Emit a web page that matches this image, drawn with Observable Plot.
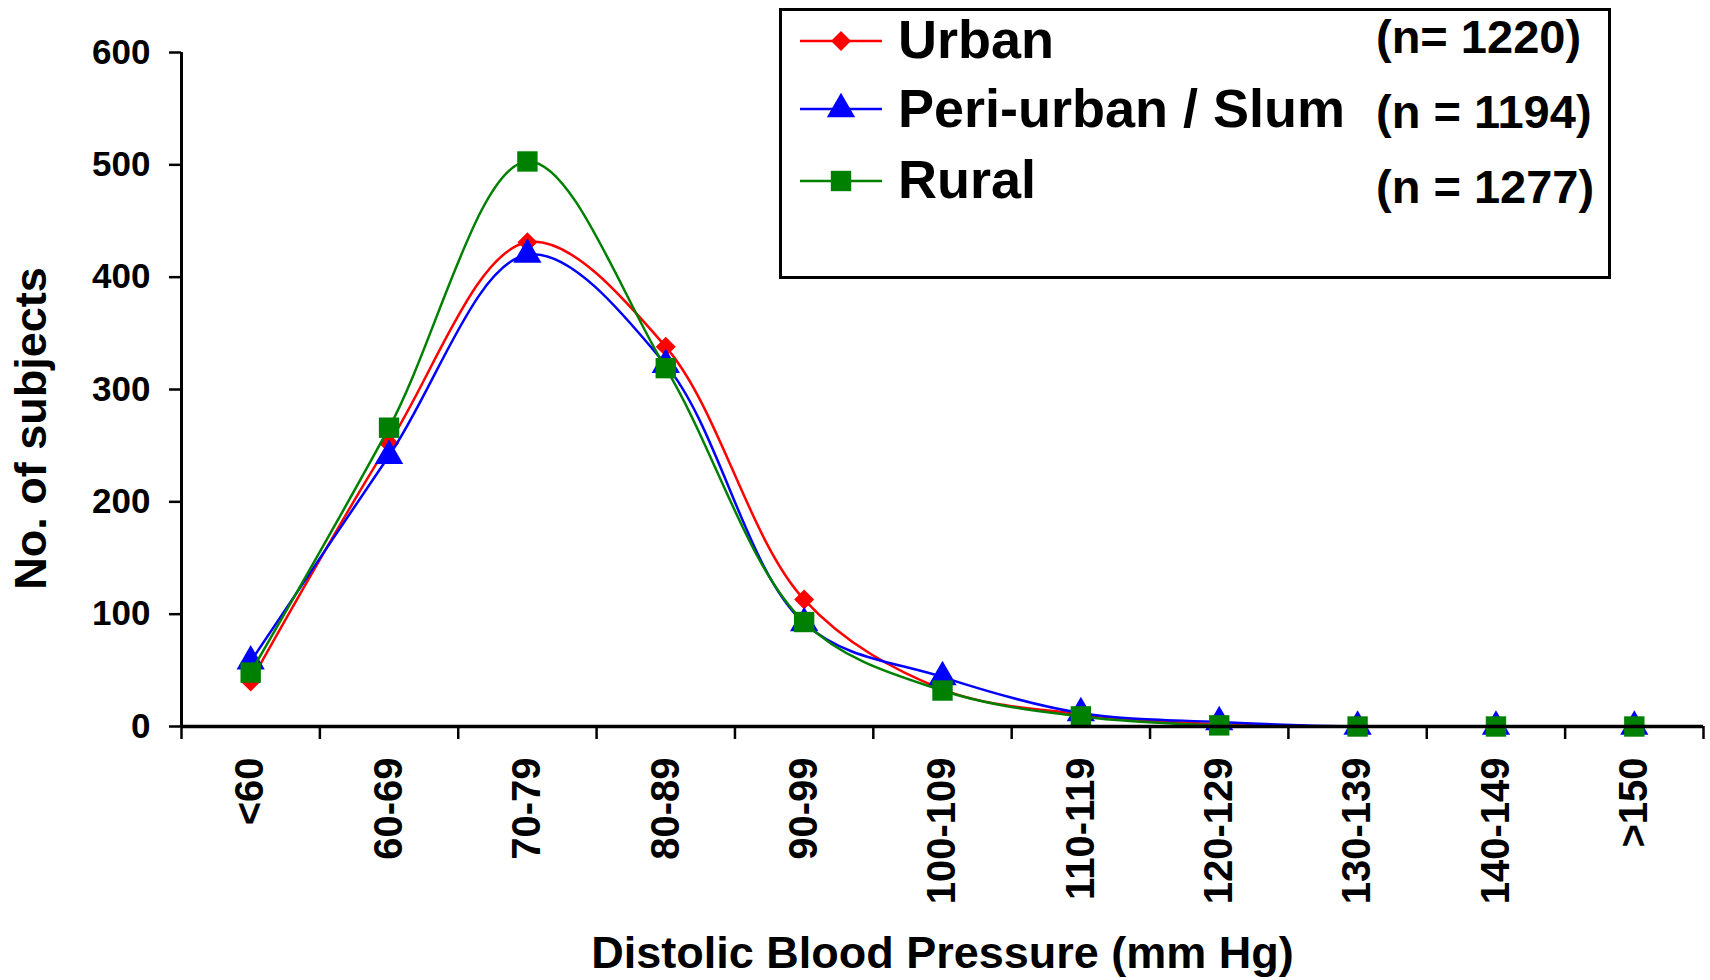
<!DOCTYPE html>
<html>
<head>
<meta charset="utf-8">
<script src="https://cdn.jsdelivr.net/npm/d3@7"></script>
<script src="https://cdn.jsdelivr.net/npm/@observablehq/plot@0.6"></script>
<style>
  html, body { margin: 0; padding: 0; background: #fff; }
  #wrap { position: relative; width: 1710px; height: 980px; font-family: "Liberation Sans", Arial, sans-serif; }
  #legend { position: absolute; left: 779px; top: 8px; }
</style>
</head>
<body>
<div id="wrap"></div>
<script>
// ---- data ----
const categories = ["<60", "60-69", "70-79", "80-89", "90-99", "100-109", "110-119", "120-129", "130-139", "140-149", ">150"];
const urban = [40, 252, 431, 338, 113, 33, 11, 2, 0, 0, 0];
const periUrban = [58, 241, 420, 322, 92, 44, 12, 4, 0, 0, 0];
const rural = [48, 266, 503, 319, 93, 32, 9, 1, 0, 0, 0];
const seriesNames = ["Urban", "Peri-urban / Slum", "Rural"];
const seriesN = ["(n= 1220)", "(n = 1194)", "(n = 1277)"];
const yTicks = [0, 100, 200, 300, 400, 500, 600];
const xLabel = "Distolic Blood Pressure (mm Hg)";
const yLabel = "No. of subjects";

const colors = ["#ff0000", "#0000ff", "#008000"];
const symbols = ["diamond2", "triangle", "square"];
const radii = [9, 10.5, 11.5];
const allSeries = [urban, periUrban, rural];

const rowsFor = (vals) => vals.map((v, i) => ({i, cat: categories[i], value: v}));
const xPos = d => d.i + 0.5;

const marks = [];
allSeries.forEach((vals, k) => {
  const rows = rowsFor(vals);
  marks.push(Plot.line(rows, {x: xPos, y: "value", stroke: colors[k], strokeWidth: 2.5, curve: "catmull-rom"}));
  marks.push(Plot.dot(rows, {x: xPos, y: "value", fill: colors[k], stroke: "none", symbol: symbols[k], r: radii[k]}));
});

const chart = Plot.plot({
  width: 1710,
  height: 980,
  marginLeft: 181,
  marginRight: 7,
  marginTop: 52,
  marginBottom: 254,
  style: {fontFamily: "'Liberation Sans', Arial, sans-serif", fontWeight: "bold", color: "#000", background: "#fff"},
  x: {type: "linear", domain: [0, categories.length]},
  y: {domain: [0, 600]},
  marks: [
    Plot.axisY({ticks: yTicks, tickSize: 12, tickPadding: 19, fontSize: 35, strokeWidth: 2.5, label: null}),
    Plot.axisX({ticks: d3.range(0, categories.length + 1), tickSize: 13, strokeWidth: 2.5, tickFormat: () => "", label: null}),
    Plot.axisX({ticks: categories.map((c, i) => i + 0.5), tickFormat: v => categories[Math.floor(v)], tickSize: 0, tickPadding: 31, tickRotate: -90, fontSize: 40, label: null}),
    ...marks,
    Plot.ruleX([0], {stroke: "#000", strokeWidth: 3}),
    Plot.ruleY([0], {stroke: "#000", strokeWidth: 3.5}),
    Plot.text([yLabel], {text: d => d, frameAnchor: "left", textAnchor: "middle", rotate: -90, dx: -150, dy: 39, fontSize: 45, fontWeight: "bold", fill: "#000"}),
    Plot.text([xLabel], {text: d => d, frameAnchor: "bottom", textAnchor: "middle", dy: 241, fontSize: 45, fontWeight: "bold", fill: "#000"})
  ]
});
document.getElementById("wrap").appendChild(chart);

// ---- legend ----
const W = 832, H = 271;
const leg = d3.select("#wrap").append("svg").attr("id", "legend").attr("width", W).attr("height", H)
  .style("font-family", "'Liberation Sans', Arial, sans-serif").style("font-weight", "bold");
leg.append("rect").attr("x", 1.5).attr("y", 1.5).attr("width", W - 3).attr("height", H - 3)
  .attr("fill", "#fff").attr("stroke", "#000").attr("stroke-width", 3);
const rowY = [33, 101, 173];
const labelBase = [50, 119, 190];
const nBase = [45, 120, 195];
const symMap = {diamond2: d3.symbolDiamond2, triangle: d3.symbolTriangle, square: d3.symbolSquare};
seriesNames.forEach((name, k) => {
  const g = leg.append("g");
  g.append("line").attr("x1", 21).attr("x2", 103).attr("y1", rowY[k]).attr("y2", rowY[k])
    .attr("stroke", colors[k]).attr("stroke-width", 2.5);
  g.append("path").attr("transform", `translate(62,${rowY[k]})`)
    .attr("d", d3.symbol(symMap[symbols[k]], Math.PI * radii[k] * radii[k])())
    .attr("fill", colors[k]);
  g.append("text").attr("x", 119).attr("y", labelBase[k]).attr("font-size", 54).attr("fill", "#000").text(name);
  g.append("text").attr("x", 597).attr("y", nBase[k]).attr("font-size", 47).attr("fill", "#000").text(seriesN[k]);
});
</script>
</body>
</html>
